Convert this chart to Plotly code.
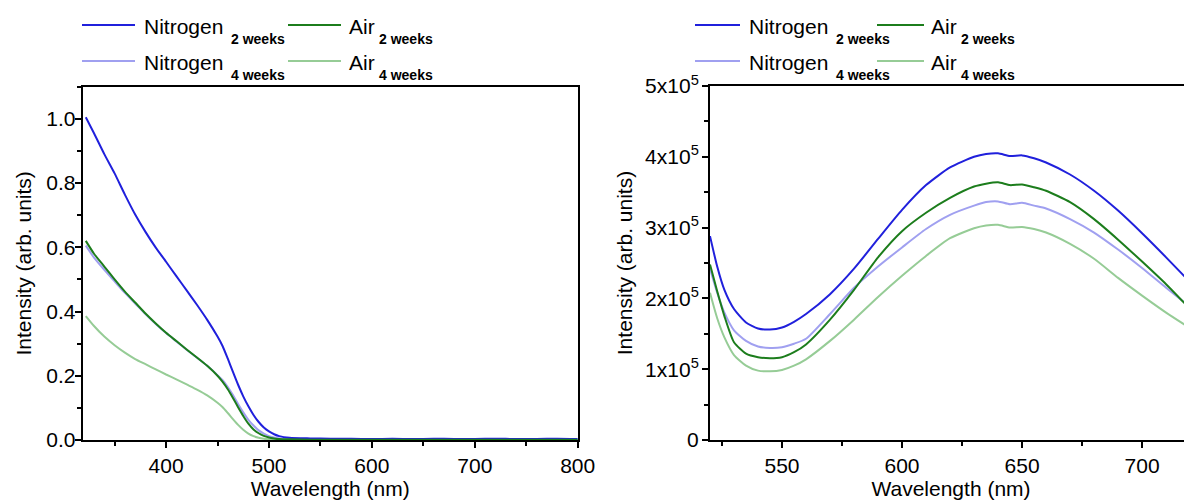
import plotly.graph_objects as go

# ---------------- data ----------------
series_names = ["Nitrogen", "Air", "Nitrogen", "Air"]
series_sub = ["2 weeks", "2 weeks", "4 weeks", "4 weeks"]
series_colors = ["#2020dc", "#1c7d1c", "#a0a0f0", "#96cc96"]

# Absorption (left panel)
wl_abs = [322, 330, 340, 350, 360, 370, 380, 390, 400, 410, 420, 430, 440, 450, 455, 460,
          465, 470, 475, 480, 485, 490, 495, 500, 505, 510, 520, 540, 560, 580, 600, 620,
          640, 660, 680, 700, 720, 740, 760, 780, 800]
abs_n2 = [1.005, 0.955, 0.890, 0.830, 0.764, 0.702, 0.648, 0.599, 0.555, 0.510, 0.466, 0.421,
          0.374, 0.322, 0.292, 0.253, 0.212, 0.172, 0.136, 0.105, 0.078, 0.056, 0.039, 0.027,
          0.018, 0.012, 0.007, 0.005, 0.004, 0.004, 0.003, 0.004, 0.003, 0.004, 0.003, 0.003,
          0.004, 0.003, 0.003, 0.004, 0.003]
abs_air2 = [0.620, 0.580, 0.540, 0.500, 0.462, 0.428, 0.394, 0.363, 0.334, 0.308, 0.282, 0.257,
            0.231, 0.200, 0.181, 0.158, 0.131, 0.102, 0.075, 0.051, 0.033, 0.021, 0.013, 0.008,
            0.005, 0.003, 0.002, 0.001, 0.001, 0.001, 0.001, 0.001, 0.001, 0.001, 0.001, 0.001,
            0.001, 0.001, 0.001, 0.001, 0.001]
abs_n4 = [0.605, 0.568, 0.530, 0.494, 0.458, 0.425, 0.392, 0.361, 0.333, 0.307, 0.281, 0.256,
          0.231, 0.202, 0.186, 0.165, 0.140, 0.112, 0.086, 0.063, 0.045, 0.030, 0.020, 0.012,
          0.008, 0.005, 0.003, 0.002, 0.002, 0.002, 0.002, 0.002, 0.002, 0.002, 0.002, 0.002,
          0.002, 0.002, 0.002, 0.002, 0.002]
abs_air4 = [0.386, 0.355, 0.322, 0.295, 0.272, 0.252, 0.236, 0.220, 0.204, 0.189, 0.173, 0.157,
            0.139, 0.116, 0.102, 0.084, 0.065, 0.047, 0.032, 0.020, 0.012, 0.007, 0.004, 0.002,
            0.001, 0.001, 0.001, 0.001, 0.001, 0.001, 0.001, 0.001, 0.001, 0.001, 0.001, 0.001,
            0.001, 0.001, 0.001, 0.001, 0.001]

# Photoluminescence (right panel)
wl_pl = [520, 523, 526, 530, 535, 540, 545, 550, 555, 560, 570, 580, 590, 600, 610, 620, 630,
         635, 640, 645, 650, 655, 660, 670, 680, 690, 700, 710, 720]
pl_n2 = [2.88e5, 2.45e5, 2.12e5, 1.85e5, 1.66e5, 1.575e5, 1.56e5, 1.59e5, 1.67e5, 1.78e5,
         2.06e5, 2.42e5, 2.84e5, 3.25e5, 3.60e5, 3.85e5, 4.00e5, 4.04e5, 4.05e5, 4.01e5,
         4.02e5, 3.98e5, 3.92e5, 3.75e5, 3.52e5, 3.24e5, 2.92e5, 2.58e5, 2.23e5]
pl_air2 = [2.48e5, 2.10e5, 1.75e5, 1.38e5, 1.22e5, 1.17e5, 1.155e5, 1.17e5, 1.24e5, 1.35e5,
           1.70e5, 2.12e5, 2.58e5, 2.95e5, 3.21e5, 3.42e5, 3.58e5, 3.62e5, 3.64e5, 3.60e5,
           3.61e5, 3.57e5, 3.52e5, 3.36e5, 3.12e5, 2.83e5, 2.52e5, 2.20e5, 1.85e5]
pl_n4 = [2.42e5, 2.08e5, 1.80e5, 1.55e5, 1.40e5, 1.32e5, 1.30e5, 1.31e5, 1.36e5, 1.43e5,
         1.78e5, 2.15e5, 2.45e5, 2.72e5, 2.98e5, 3.18e5, 3.31e5, 3.36e5, 3.37e5, 3.33e5,
         3.35e5, 3.31e5, 3.27e5, 3.12e5, 2.93e5, 2.69e5, 2.43e5, 2.15e5, 1.88e5]
pl_air4 = [2.08e5, 1.72e5, 1.45e5, 1.20e5, 1.05e5, 0.98e5, 0.97e5, 0.99e5, 1.05e5, 1.14e5,
           1.40e5, 1.70e5, 2.02e5, 2.32e5, 2.60e5, 2.85e5, 2.99e5, 3.03e5, 3.04e5, 3.00e5,
           3.01e5, 2.98e5, 2.93e5, 2.77e5, 2.56e5, 2.29e5, 2.04e5, 1.80e5, 1.58e5]

pl_tickvals = [0, 1e5, 2e5, 3e5, 4e5, 5e5]
pl_ticktext = ["0", "1x10<sup>5</sup>", "2x10<sup>5</sup>", "3x10<sup>5</sup>",
               "4x10<sup>5</sup>", "5x10<sup>5</sup>"]

# ---------------- figure ----------------
# the page body adds an 8px margin, so the figure is 8px smaller each way
OFF = 8
W, H = 1192 - OFF, 503 - OFF
FONT = "Liberation Sans, Arial, sans-serif"
fig = go.Figure()

abs_series = [abs_n2, abs_air2, abs_n4, abs_air4]
pl_series = [pl_n2, pl_air2, pl_n4, pl_air4]
draw_order = [3, 2, 0, 1]  # light lines first, dark green on top
for i in draw_order:
    fig.add_trace(go.Scatter(x=wl_abs, y=abs_series[i], mode="lines",
                             line=dict(color=series_colors[i], width=2, shape="spline",
                                       smoothing=0.6),
                             name=f"{series_names[i]} {series_sub[i]}",
                             showlegend=False, xaxis="x", yaxis="y"))
for i in draw_order:
    fig.add_trace(go.Scatter(x=wl_pl, y=pl_series[i], mode="lines",
                             line=dict(color=series_colors[i], width=2, shape="spline",
                                       smoothing=0.6),
                             name=f"{series_names[i]} {series_sub[i]}",
                             showlegend=False, xaxis="x2", yaxis="y2"))

def px_x(p):
    return (p - OFF) / W

def px_y(p):
    return 1 - (p - OFF) / H

axis_common = dict(showline=True, linecolor="black", linewidth=2, ticks="outside",
                   ticklen=6, tickwidth=2, tickcolor="black", showgrid=False, zeroline=False,
                   automargin=False,
                   tickfont=dict(family=FONT, size=21, color="black"),
                   title_font=dict(family=FONT, size=21, color="black"))

fig.update_layout(
    template="none",
    width=W, height=H, margin=dict(l=0, r=0, t=0, b=0, pad=0, autoexpand=False),
    paper_bgcolor="white", plot_bgcolor="white",
    font=dict(family=FONT, color="black"),
    xaxis=dict(domain=[px_x(82.7), px_x(577.7)], range=[319, 800], dtick=100, tick0=0,
               mirror=True, anchor="y", title=dict(text="Wavelength (nm)", standoff=1),
               minor=dict(dtick=50, tick0=0, ticks="outside", ticklen=4, tickwidth=2,
                          tickcolor="black"),
               ticklabelstandoff=0, **axis_common),
    yaxis=dict(domain=[px_y(440), px_y(86.7)], range=[0, 1.1], dtick=0.2, tick0=0,
               tickformat=".1f", mirror=True, anchor="x",
               title=dict(text="Intensity (arb. units)", standoff=9),
               minor=dict(dtick=0.1, tick0=0, ticks="outside", ticklen=4, tickwidth=2,
                          tickcolor="black"),
               ticklabelstandoff=-5, **axis_common),
    xaxis2=dict(domain=[px_x(710), 1.0], range=[520, 720.8], dtick=50, tick0=0,
                mirror=True, anchor="y2", title=dict(text="Wavelength (nm)", standoff=1),
                minor=dict(dtick=25, tick0=0, ticks="outside", ticklen=4, tickwidth=2,
                           tickcolor="black"),
                ticklabelstandoff=0, **axis_common),
    yaxis2=dict(domain=[px_y(440), px_y(86)], range=[0, 5e5], tickvals=pl_tickvals,
                ticktext=pl_ticktext, anchor="x2",
                title=dict(text="Intensity (arb. units)", standoff=7),
                minor=dict(dtick=5e4, tick0=0, ticks="outside", ticklen=4, tickwidth=2,
                           tickcolor="black"),
                ticklabelstandoff=-1, **axis_common),
)

# ---------------- manual legends (2 x 2 each) ----------------
legend_layouts = [
    # (line x0, line x1, text x) per column, for left and right panel
    [(82, 135, 142), (288, 341, 347)],
    [(695, 740, 747), (877, 924, 929)],
]
sub_offset = {"Nitrogen": 87, "Air": 30}
row_y = [25, 61]
# entry order: row 1 -> N2, Air2 ; row 2 -> N4, Air4
entry_pos = {0: (0, 0), 1: (0, 1), 2: (1, 0), 3: (1, 1)}
for cols in legend_layouts:
    for i in range(4):
        r, c = entry_pos[i]
        x0, x1, tx = cols[c]
        y = row_y[r]
        fig.add_shape(type="line", xref="paper", yref="paper",
                      x0=px_x(x0), x1=px_x(x1), y0=px_y(y), y1=px_y(y),
                      line=dict(color=series_colors[i], width=2))
        fig.add_annotation(
            xref="paper", yref="paper", x=px_x(tx), y=px_y(y + 1),
            xanchor="left", yanchor="middle", showarrow=False,
            text=series_names[i],
            font=dict(family=FONT, size=21, color="black"))
        fig.add_annotation(
            xref="paper", yref="paper", x=px_x(tx + sub_offset[series_names[i]]),
            y=px_y(y + 14), xanchor="left", yanchor="middle", showarrow=False,
            text=f"<b>{series_sub[i]}</b>",
            font=dict(family=FONT, size=14, color="black"))

fig.write_html("out.html")
